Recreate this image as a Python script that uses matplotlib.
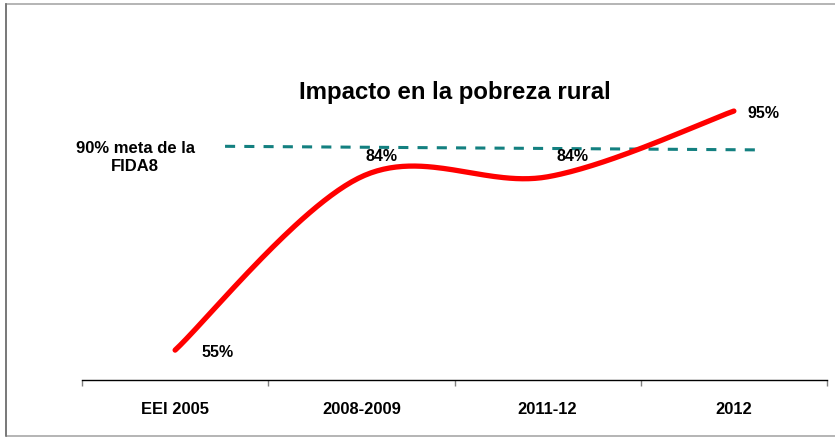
import numpy as np
import matplotlib
matplotlib.use("Agg")
import matplotlib.pyplot as plt
from matplotlib.patches import Rectangle

plt.rcParams['font.family'] = ['Liberation Sans', 'DejaVu Sans']

categories = ["EEI 2005", "2008-2009", "2011-12", "2012"]
values = [55, 84, 84, 95]
value_labels = ["55%", "84%", "84%", "95%"]
target_values = [89.1, 88.5]
target_label = "90% meta de la\nFIDA8"
title = "Impacto en la pobreza rural"

W, H = 835, 439
fig = plt.figure(figsize=(W / 100, H / 100), dpi=100)

ax_left, ax_right = 82, 827
ax_bottom, ax_top = 381, 20
ax = fig.add_axes([ax_left / W, 1 - ax_bottom / H, (ax_right - ax_left) / W, (ax_bottom - ax_top) / H])
ax.set_xlim(-0.5, len(categories) - 0.5)
ax.set_ylim(50, 110.4)


def smooth(xs, ys, n=60):
    pts = np.column_stack([xs, ys]).astype(float)
    ext = np.vstack([pts[0], pts, pts[-1]])
    out = []
    for i in range(len(pts) - 1):
        p0, p1, p2, p3 = ext[i], ext[i + 1], ext[i + 2], ext[i + 3]
        c1 = p1 + (p2 - p0) / 6
        c2 = p2 - (p3 - p1) / 6
        t = np.linspace(0, 1, n)[:, None]
        seg = ((1 - t) ** 3) * p1 + 3 * t * (1 - t) ** 2 * c1 + 3 * t ** 2 * (1 - t) * c2 + t ** 3 * p2
        out.append(seg if i == 0 else seg[1:])
    s = np.vstack(out)
    return s[:, 0], s[:, 1]


x = np.arange(len(categories))
sx, sy = smooth(x, values)
ax.plot(sx, sy, color='#FF0000', lw=3.8, solid_capstyle='round', zorder=3)

ax.plot([0.268, 3.14], target_values, color='#138080', lw=2.2, dashes=(3.3, 3.0), zorder=2)

offsets_px = [(26, -1, 'left'), (20, 21, 'center'), (25, 21, 'center'), (14, -1, 'left')]
for xi, v, lab, (dx, dy, ha) in zip(x, values, value_labels, offsets_px):
    ax.annotate(lab, (xi, v), xytext=(dx * 0.72, dy * 0.72), textcoords='offset points',
                ha=ha, va='center', fontsize=11.5, fontweight='bold', color='black')

fig.text(135 / W, 1 - 158 / H, target_label, ha='center', va='center', fontsize=12,
         fontweight='bold', linespacing=1.25)

fig.text(455 / W, 1 - 92 / H, title, ha='center', va='center', fontsize=17.3, fontweight='bold')

for s in ['top', 'right', 'left']:
    ax.spines[s].set_visible(False)
ax.spines['bottom'].set_color('black')
ax.spines['bottom'].set_linewidth(1.0)
ax.set_yticks([])
ax.set_xticks(np.arange(-0.5, len(categories)), minor=False)
ax.set_xticklabels([])
ax.tick_params(axis='x', which='major', length=4, color='#808080', width=1)
ax.set_xticks(x, minor=True)
ax.set_xticklabels(categories, minor=True, fontsize=11.9, fontweight='bold')
ax.tick_params(axis='x', which='minor', length=0, pad=15)
ax.patch.set_alpha(0)

# outer border
fig.patches.append(Rectangle((5.5 / W, 1 - 437 / H), (840 - 5.5) / W, (437 - 5) / H,
                             transform=fig.transFigure, fill=False, edgecolor='#A8A8A8', lw=1.2))
fig.add_artist(plt.Line2D([5.5 / W, 5.5 / W], [1 - 437 / H, 1 - 5 / H], transform=fig.transFigure,
                          color='#707070', lw=1.2))

fig.savefig("out.png", dpi=100)
